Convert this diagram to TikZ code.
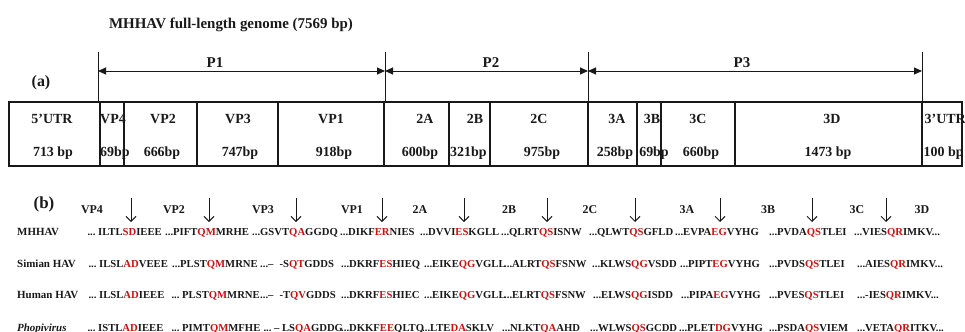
\documentclass[tikz,border=0pt]{standalone}
\usepackage{fontspec}
\setmainfont{Liberation Serif}
\usetikzlibrary{arrows.meta}
\definecolor{cut}{RGB}{204,16,16}
\definecolor{ink}{RGB}{25,25,25}
\tikzset{
  seg/.style={anchor=base west,inner sep=0pt,text=ink,font=\bfseries\fontsize{10.7}{13}\selectfont},
  rowlbl/.style={anchor=base west,inner sep=0pt,text=ink,font=\bfseries\fontsize{11}{13}\selectfont},
  boxtext/.style={anchor=base,inner sep=0pt,text=ink,font=\bfseries\fontsize{14}{16}\selectfont},
  head/.style={anchor=base,inner sep=0pt,text=ink,font=\bfseries\fontsize{12}{14}\selectfont},
  big/.style={anchor=base,inner sep=0pt,text=ink,font=\bfseries\fontsize{15}{17}\selectfont},
  dimarrow/.style={{Triangle[length=8bp,width=7bp]}-{Triangle[length=8bp,width=7bp]},line width=1bp,draw=ink},
  boxline/.style={line width=1.1bp,draw=ink},
  tick/.style={line width=1bp,draw=ink},
  cutarrow/.style={-{Straight Barb[length=5bp,width=10bp]},line width=0.9bp,draw=ink},
}
% name, x (first letter), y (baseline), lead, prefix, red pair, suffix
\newcommand\cleave[7]{\node[seg] (#1) at (#2,#3) {\llap{#4}#5\textcolor{cut}{#6}#7};}
\begin{document}
\begin{tikzpicture}[x=1bp,y=-1bp]
\useasboundingbox (0,0) rectangle (965,331);
\clip (0,0) rectangle (965,331);
% (a)
\node[big] (title) at (231,28) {MHHAV full-length genome (7569 bp)};
\node[big,font=\bfseries\fontsize{16}{18}\selectfont] (alab) at (41,86) {(a)};
\foreach \x/\n in {98/t1,385/t2,588/t3,922/t4} \coordinate (\n) at (\x,71);
\foreach \x in {98,385,588,922} \draw[tick] (\x,52) -- (\x,102);
\draw[dimarrow] (t1) -- (t2);
\draw[dimarrow] (t2) -- (t3);
\draw[dimarrow] (t3) -- (t4);
\node[big] (P1) at (215,67) {P1};
\node[big] (P2) at (491,67) {P2};
\node[big] (P3) at (742,67) {P3};
\draw[boxline] (9,102) rectangle (962,166);
\foreach \x in {100,124,197,278,384,449,490,588,637,661,735,922} \draw[boxline] (\x,102) -- (\x,166);
\node[boxtext] (c1a) at (52,123) {5'UTR};
\node[boxtext] (c1b) at (53,156) {713 bp};
\node[boxtext,anchor=base west] (c2a) at (100,123) {VP4};
\node[boxtext,anchor=base west] (c2b) at (100,156) {69bp};
\node[boxtext] (c3a) at (163,123) {VP2};
\node[boxtext] (c3b) at (162,156) {666bp};
\node[boxtext] (c4a) at (238,123) {VP3};
\node[boxtext] (c4b) at (240,156) {747bp};
\node[boxtext] (c5a) at (331,123) {VP1};
\node[boxtext] (c5b) at (334,156) {918bp};
\node[boxtext] (c6a) at (425,123) {2A};
\node[boxtext] (c6b) at (420,156) {600bp};
\node[boxtext] (c7a) at (475,123) {2B};
\node[boxtext,anchor=base west] (c7b) at (450,156) {321bp};
\node[boxtext] (c8a) at (539,123) {2C};
\node[boxtext] (c8b) at (542,156) {975bp};
\node[boxtext] (c9a) at (617,123) {3A};
\node[boxtext] (c9b) at (615,156) {258bp};
\node[boxtext] (c10a) at (652,123) {3B};
\node[boxtext] (c10b) at (654,156) {69bp};
\node[boxtext] (c11a) at (698,123) {3C};
\node[boxtext] (c11b) at (701,156) {660bp};
\node[boxtext] (c12a) at (832,123) {3D};
\node[boxtext] (c12b) at (828,156) {1473 bp};
\node[boxtext,anchor=base west] (c13a) at (924.5,123) {3'UTR};
\node[boxtext,anchor=base west] (c13b) at (923.5,156) {100 bp};
% (b)
\node[big,font=\bfseries\fontsize{17}{19}\selectfont] (blab) at (44,208) {(b)};
\node[head] (hVP4) at (92,213) {VP4};
\node[head] (hVP2) at (174,213) {VP2};
\node[head] (hVP3) at (263,213) {VP3};
\node[head] (hVP1) at (352,213) {VP1};
\node[head] (h2A) at (420,213) {2A};
\node[head] (h2B) at (509,213) {2B};
\node[head] (h2C) at (590,213) {2C};
\node[head] (h3A) at (687,213) {3A};
\node[head] (h3B) at (768,213) {3B};
\node[head] (h3C) at (857,213) {3C};
\node[head] (h3D) at (922,213) {3D};
\foreach \x [count=\i] in {131,209,296,382,464,547,635,720,812,886}{
  \coordinate (a\i) at (\x,198);
  \coordinate (b\i) at (\x,222);
  \draw[cutarrow] (a\i) -- (b\i);
}
\node[rowlbl] (rM) at (17,235) {MHHAV};
\node[rowlbl] (rS) at (17,267) {Simian HAV};
\node[rowlbl] (rH) at (17,298) {Human HAV};
\node[rowlbl,font=\bfseries\itshape\fontsize{11}{13}\selectfont] (rP) at (17,331) {Phopivirus};
% MHHAV
\cleave{m1}{98}{235}{...\ }{ILTL}{SD}{IEEE}
\cleave{m2}{173}{235}{...}{PIFT}{QM}{MRHE}
\cleave{m3}{260}{235}{...}{GSVT}{QA}{GGDQ}
\cleave{m4}{348}{235}{...}{DIKF}{ER}{NIES}
\cleave{m5}{428}{235}{...}{DVVI}{ES}{KGLL}
\cleave{m6}{509}{235}{...}{QLRT}{QS}{ISNW}
\cleave{m7}{597}{235}{...}{QLWT}{QS}{GFLD}
\cleave{m8}{683}{235}{...}{EVPA}{EG}{VYHG}
\cleave{m9}{777}{235}{...}{PVDA}{QS}{TLEI}
\cleave{m10}{862}{235}{...}{VIES}{QR}{IMKV...}
% Simian HAV
\cleave{s1}{99}{267}{...\ }{ILSL}{AD}{VEEE}
\cleave{s2}{180}{267}{...}{PLST}{QM}{MRNE}
\cleave{s3}{268}{267}{...}{--\hspace{6bp}-S}{QT}{GDDS}
\cleave{s4}{349}{267}{...}{DKRF}{ES}{HIEQ}
\cleave{s5}{432}{267}{...}{EIKE}{QG}{VGLL}
\cleave{s6}{512}{267}{...}{ALRT}{QS}{FSNW}
\cleave{s7}{600}{267}{...}{KLWS}{QG}{VSDD}
\cleave{s8}{688}{267}{...}{PIPT}{EG}{VYHG}
\cleave{s9}{777}{267}{...}{PVDS}{QS}{TLEI}
\cleave{s10}{865}{267}{...}{AIES}{QR}{IMKV...}
% Human HAV
\cleave{h1}{99}{298}{...\ }{ILSL}{AD}{IEEE}
\cleave{h2}{182}{298}{...\ }{PLST}{QM}{MRNE}
\cleave{h3}{268}{298}{...}{--\hspace{6bp}-T}{QV}{GDDS}
\cleave{h4}{349}{298}{...}{DKRF}{ES}{HIEC}
\cleave{h5}{432}{298}{...}{EIKE}{QG}{VGLL}
\cleave{h6}{512}{298}{...}{ELRT}{QS}{FSNW}
\cleave{h7}{601}{298}{...}{ELWS}{QG}{ISDD}
\cleave{h8}{689}{298}{...}{PIPA}{EG}{VYHG}
\cleave{h9}{777}{298}{...}{PVES}{QS}{TLEI}
\cleave{h10}{865}{298}{...}{-IES}{QR}{IMKV...}
% Phopivirus
\cleave{p1}{98}{331}{...\ }{ISTL}{AD}{IEEE}
\cleave{p2}{182}{331}{...\ }{PIMT}{QM}{MFHE}
\cleave{p3}{274}{331}{...\ }{--\hspace{2.5bp}LS}{QA}{GDDG}
\cleave{p4}{349}{331}{...}{DKKF}{EE}{QLTQ}
\cleave{p5}{430}{331}{...}{LTE}{DA}{SKLV}
\cleave{p6}{510}{331}{...}{NLKT}{QA}{AHD}
\cleave{p7}{598}{331}{...}{WLWS}{QS}{GCDD}
\cleave{p8}{687}{331}{...}{PLET}{DG}{VYHG}
\cleave{p9}{777}{331}{...}{PSDA}{QS}{VIEM}
\cleave{p10}{865}{331}{...}{VETA}{QR}{ITKV...}
\end{tikzpicture}
\end{document}
